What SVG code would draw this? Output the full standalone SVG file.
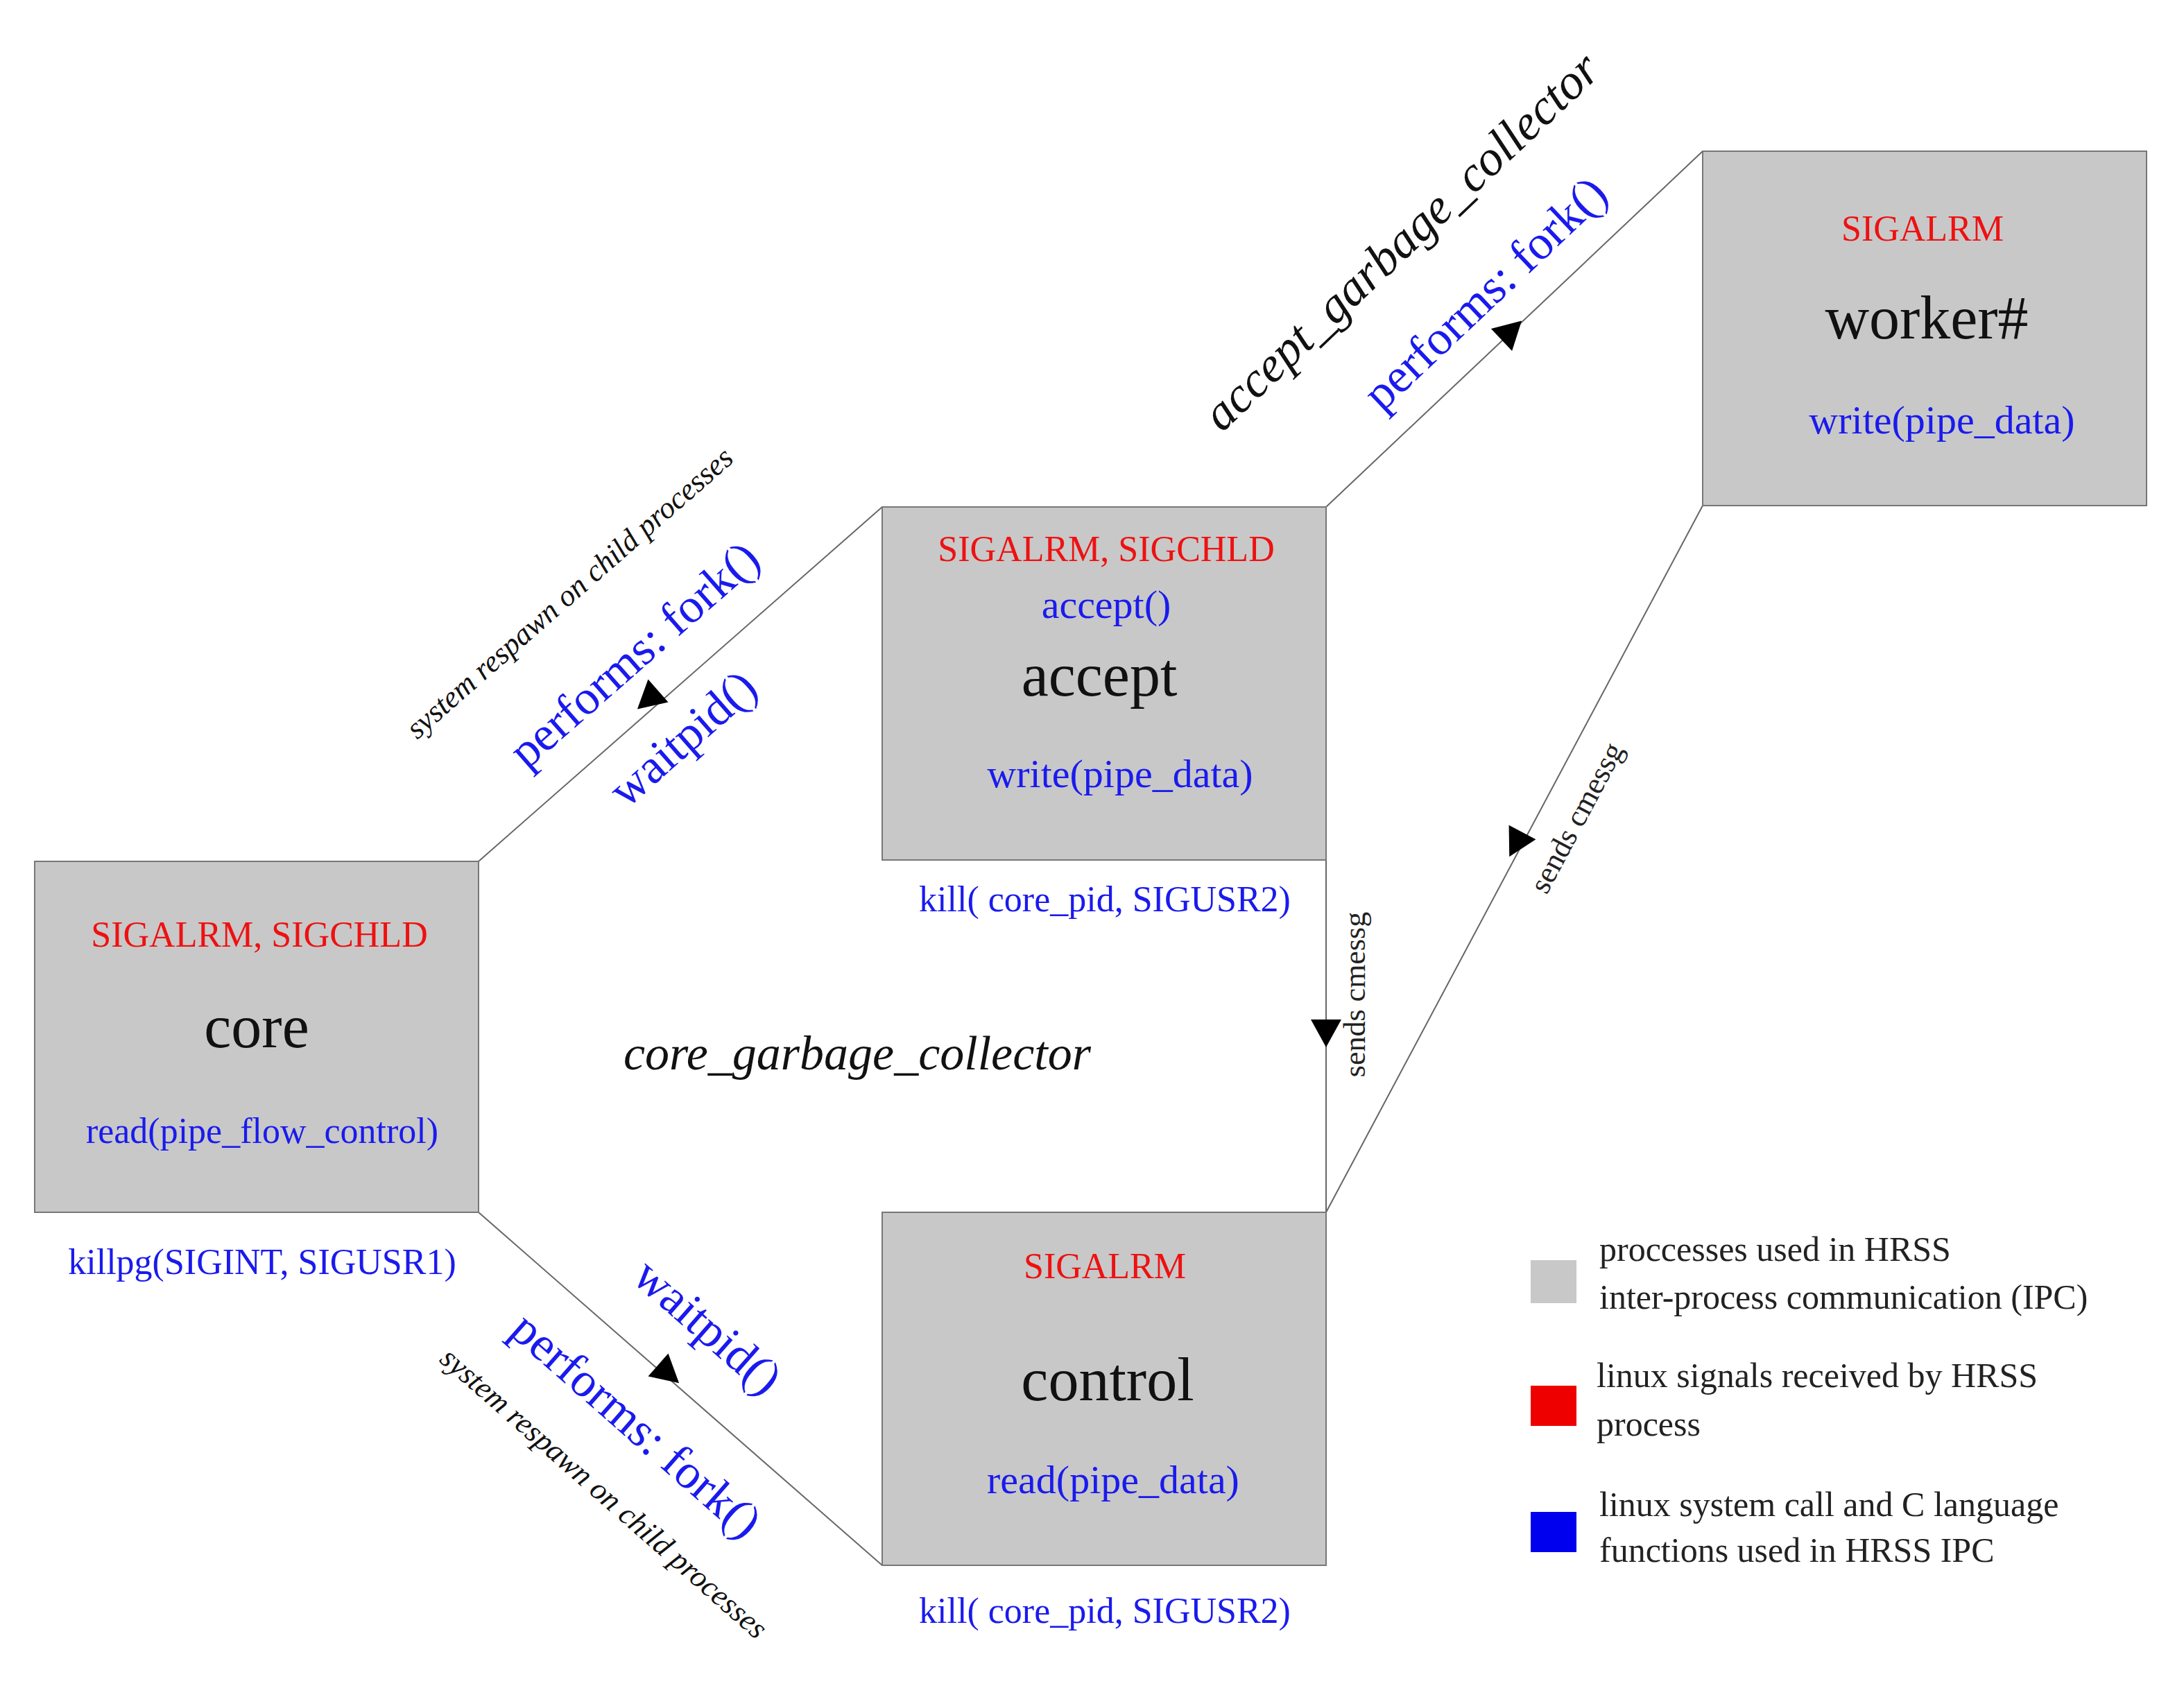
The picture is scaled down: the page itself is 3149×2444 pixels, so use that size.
<svg xmlns="http://www.w3.org/2000/svg" width="3149" height="2444" viewBox="0 0 3149 2444">
<defs>
<style>
text{font-family:"Liberation Serif","Times New Roman",serif;text-anchor:middle;dominant-baseline:middle}
.box{fill:#c8c8c8;stroke:#777;stroke-width:2}
.r{fill:#ee1111;font-size:52px}
.b{fill:#1a1aee;font-size:52px}
.bl{fill:#1a1aee;font-size:70px}
.k{fill:#111;font-size:88px}
.i{fill:#111;font-style:italic}
.lg{fill:#222;font-size:50px;text-anchor:start}
.ln{stroke:#666;stroke-width:2;fill:none}
</style>
<marker id="a" viewBox="0 0 10 10" refX="5" refY="5" markerWidth="12" markerHeight="12" markerUnits="userSpaceOnUse" orient="auto"><path d="M0,0L10,5L0,10z" fill="#000"/></marker>
</defs>
<rect width="3149" height="2444" fill="#fff"/>
<g id="connectors">
<path class="ln" d="M690,1242L1272,731"/>
<path d="M0,-22L40,0L0,22z" transform="translate(949,996) rotate(138.7)" fill="#000"/>
<path class="ln" d="M690,1748L1272,2257"/>
<path d="M0,-22L40,0L0,22z" transform="translate(949,1968) rotate(41.2)" fill="#000"/>
<path class="ln" d="M1912,731L2455,218"/>
<path d="M0,-22L40,0L0,22z" transform="translate(2165,490) rotate(-43.4)" fill="#000"/>
<path class="ln" d="M1912,1240L1912,1748"/>
<path d="M0,-22L40,0L0,22z" transform="translate(1912,1470) rotate(90)" fill="#000"/>
<path class="ln" d="M2455,729L1912,1748"/>
<path d="M0,-22L40,0L0,22z" transform="translate(2195,1200) rotate(118)" fill="#000"/>
</g>
<g id="core"><rect class="box" x="50" y="1242" width="640" height="506"/>
<text class="r" x="374" y="1353">SIGALRM, SIGCHLD</text>
<text class="k" x="370" y="1490">core</text>
<text class="b" x="378" y="1636">read(pipe_flow_control)</text>
<text class="b" x="378" y="1825">killpg(SIGINT, SIGUSR1)</text></g>
<g id="accept"><rect class="box" x="1272" y="731" width="640" height="509"/>
<text class="r" x="1595" y="797">SIGALRM, SIGCHLD</text>
<text class="b" x="1595" y="878" style="font-size:58px">accept()</text>
<text class="k" x="1585" y="983">accept</text>
<text class="b" x="1615" y="1122" style="font-size:58px">write(pipe_data)</text>
<text class="b" x="1593" y="1302">kill( core_pid, SIGUSR2)</text></g>
<g id="control"><rect class="box" x="1272" y="1748" width="640" height="509"/>
<text class="r" x="1593" y="1831">SIGALRM</text>
<text class="k" x="1597" y="1999">control</text>
<text class="b" x="1605" y="2140" style="font-size:58px">read(pipe_data)</text>
<text class="b" x="1593" y="2328">kill( core_pid, SIGUSR2)</text></g>
<g id="worker"><rect class="box" x="2455" y="218" width="640" height="511"/>
<text class="r" x="2772" y="335">SIGALRM</text>
<text class="k" x="2778" y="468">worker#</text>
<text class="b" x="2800" y="612" style="font-size:58px">write(pipe_data)</text></g>
<g id="labels">
<text class="i" x="1236" y="1526" style="font-size:70px">core_garbage_collector</text>
<text class="bl" transform="translate(919,949) rotate(-41.3)">performs: fork()</text>
<text class="bl" transform="translate(989,1070) rotate(-41.3)">waitpid()</text>
<text class="i" style="font-size:44px" transform="translate(824,858) rotate(-41.3)">system respawn on child processes</text>
<text class="bl" transform="translate(1016,1918) rotate(41.3)">waitpid()</text>
<text class="bl" transform="translate(913,2060) rotate(41.3)">performs: fork()</text>
<text class="i" style="font-size:44px" transform="translate(868,2156) rotate(41.3)">system respawn on child processes</text>
<text class="i" style="font-size:72px" transform="translate(2025,353) rotate(-43.4)">accept_garbage_collector</text>
<text class="bl" transform="translate(2146,428) rotate(-43.4)">performs: fork()</text>
<text style="font-size:44px;fill:#222" transform="translate(1958,1434) rotate(-90)">sends  cmessg</text>
<text style="font-size:44px;fill:#222" transform="translate(2277,1181) rotate(-62)">sends cmessg</text>
</g>
<g id="legend">
<rect x="2207" y="1817" width="66" height="62" fill="#c8c8c8"/>
<text class="lg" x="2306" y="1807">proccesses used in HRSS</text>
<text class="lg" x="2306" y="1876">inter-process communication (IPC)</text>
<rect x="2207" y="1998" width="66" height="58" fill="#ee0000"/>
<text class="lg" x="2302" y="1989">linux signals received by HRSS</text>
<text class="lg" x="2302" y="2059">process</text>
<rect x="2207" y="2180" width="66" height="58" fill="#0000ee"/>
<text class="lg" x="2306" y="2175">linux system call and C language</text>
<text class="lg" x="2306" y="2241">functions used in HRSS IPC</text>
</g>
</svg>
